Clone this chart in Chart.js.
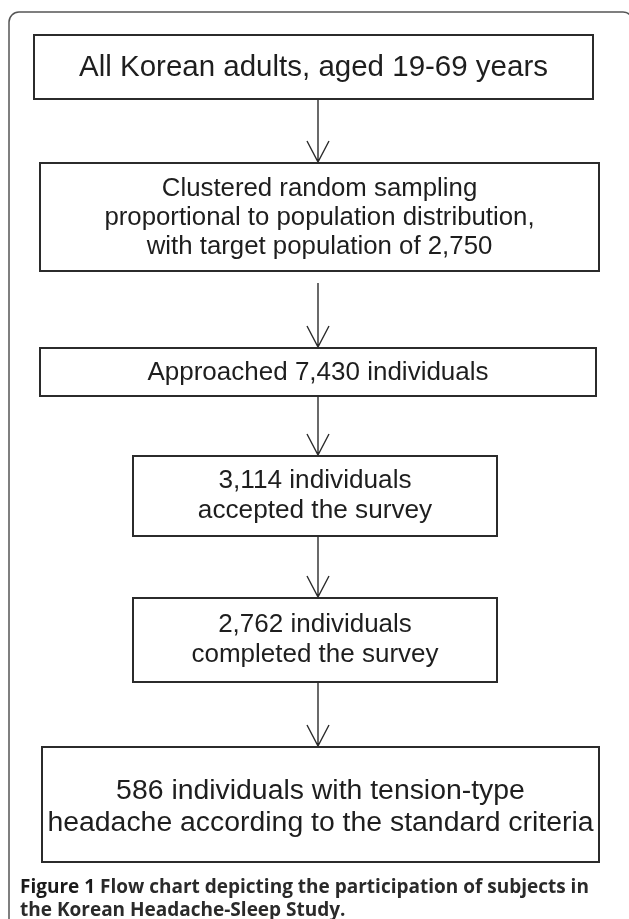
<!DOCTYPE html>
<html>
<head>
<meta charset="utf-8">
<script src="https://cdn.jsdelivr.net/npm/chart.js@4"></script>
<style>
  html, body { margin: 0; padding: 0; background: #fff; }
  canvas { display: block; }
</style>
</head>
<body>
<canvas id="flowChart" width="629" height="919"></canvas>
<script>
// flow steps, one entry per box, each a list of text lines
const steps = [
  ["All Korean adults, aged 19-69 years"],
  ["Clustered random sampling", "proportional to population distribution,", "with target population of 2,750"],
  ["Approached 7,430 individuals"],
  ["3,114 individuals", "accepted the survey"],
  ["2,762 individuals", "completed the survey"],
  ["586 individuals with tension-type", "headache according to the standard criteria"]
];
const captionLabel = "Figure 1";
const captionLines = ["Flow chart depicting the participation of subjects in", "the Korean Headache-Sleep Study."];

// layout in page pixels: [left, top, right, bottom]
const boxes = [
  [34, 35, 593, 99],
  [40, 163, 599, 271],
  [40, 348, 596, 396],
  [133, 456, 497, 536],
  [133, 598, 497, 682],
  [42, 747, 599, 862]
];
const textSize = [29.5, 25.8, 26, 26.2, 26, 28.4];
const textShift = [1, 1, 1, 0, 0, 3];
// arrows [yStart, yEnd]
const arrows = [[99, 162], [283, 347], [396, 455], [536, 597], [682, 746]];
const arrowX = 318;

const flowPlugin = {
  id: "flow",
  afterDraw(chart) {
    const ctx = chart.ctx;
    const px = v => chart.scales.x.getPixelForValue(v);
    const py = v => chart.scales.y.getPixelForValue(v);
    ctx.save();

    // outer frame, open at bottom and right
    ctx.strokeStyle = "#555";
    ctx.lineWidth = 1.5;
    ctx.beginPath();
    ctx.moveTo(px(9), py(930));
    ctx.lineTo(px(9), py(22));
    ctx.arcTo(px(9), py(12), px(19), py(12), 10);
    ctx.lineTo(px(623), py(12));
    ctx.arcTo(px(633), py(12), px(633), py(22), 10);
    ctx.stroke();

    // boxes and text
    ctx.strokeStyle = "#2b2b2b";
    ctx.lineWidth = 2;
    ctx.fillStyle = "#1e1e1e";
    ctx.textAlign = "center";
    ctx.textBaseline = "middle";
    boxes.forEach((b, i) => {
      ctx.strokeRect(px(b[0]), py(b[1]), px(b[2]) - px(b[0]), py(b[3]) - py(b[1]));
      const lines = steps[i];
      const size = textSize[i];
      const gap = size * 1.13;
      ctx.font = size + "px 'Liberation Sans', Arial, sans-serif";
      const cx = (b[0] + b[2]) / 2;
      const cy = (b[1] + b[3]) / 2 + textShift[i];
      lines.forEach((t, j) => {
        const y = cy + (j - (lines.length - 1) / 2) * gap;
        ctx.fillText(t, px(cx), py(y));
      });
    });

    // arrows
    ctx.strokeStyle = "#2b2b2b";
    ctx.lineWidth = 1.4;
    arrows.forEach(a => {
      ctx.beginPath();
      ctx.moveTo(px(arrowX), py(a[0]));
      ctx.lineTo(px(arrowX), py(a[1]));
      ctx.moveTo(px(arrowX - 11), py(a[1] - 21));
      ctx.lineTo(px(arrowX), py(a[1]));
      ctx.lineTo(px(arrowX + 11), py(a[1] - 21));
      ctx.stroke();
    });

    // caption
    ctx.textAlign = "left";
    ctx.fillStyle = "#1a1a1a";
    ctx.font = "bold 19px 'Open Sans', sans-serif";
    ctx.fillText(captionLabel + " ", px(20), py(888));
    const lw = ctx.measureText(captionLabel + " ").width;
    ctx.fillStyle = "#2a2a2a";
    ctx.fillText(captionLines[0], px(20) + lw, py(888));
    ctx.fillText(captionLines[1], px(20), py(911));
    ctx.restore();
  }
};

new Chart(document.getElementById("flowChart").getContext("2d"), {
  type: "scatter",
  data: { datasets: [{ data: [] }] },
  options: {
    responsive: false,
    animation: false,
    layout: { padding: 0 },
    plugins: { legend: { display: false }, tooltip: { enabled: false } },
    scales: {
      x: { type: "linear", min: 0, max: 629, display: false },
      y: { type: "linear", min: 0, max: 919, reverse: true, display: false }
    }
  },
  plugins: [flowPlugin]
});
</script>
</body>
</html>
